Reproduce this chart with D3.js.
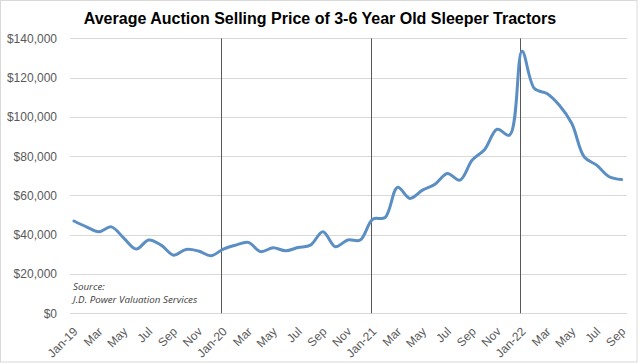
<!DOCTYPE html>
<html>
<head>
<meta charset="utf-8">
<script src="https://cdn.jsdelivr.net/npm/d3@7"></script>
<style>
  html, body { margin: 0; padding: 0; background: #fff; }
  svg { display: block; }
</style>
</head>
<body>
<svg id="chart" width="640" height="364"></svg>
<script>
const months = [
  "Jan-19","Feb-19","Mar-19","Apr-19","May-19","Jun-19","Jul-19","Aug-19","Sep-19","Oct-19","Nov-19","Dec-19",
  "Jan-20","Feb-20","Mar-20","Apr-20","May-20","Jun-20","Jul-20","Aug-20","Sep-20","Oct-20","Nov-20","Dec-20",
  "Jan-21","Feb-21","Mar-21","Apr-21","May-21","Jun-21","Jul-21","Aug-21","Sep-21","Oct-21","Nov-21","Dec-21",
  "Jan-22","Feb-22","Mar-22","Apr-22","May-22","Jun-22","Jul-22","Aug-22","Sep-22"
];
const prices = [
  47000, 44000, 41500, 44000, 38300, 32700, 37300, 34700, 29600, 32500, 31700, 29300,
  32700, 34700, 36100, 31400, 33400, 31800, 33500, 34700, 41500, 33900, 37300, 37300,
  47900, 48800, 64100, 58500, 62700, 65700, 71200, 67800, 78000, 83400, 93700, 90700,
  133400, 114400, 111900, 105900, 96600, 79600, 75400, 69500, 68100
];
// every other month is labelled
const tickMonths = months.filter((m, i) => i % 2 === 0);
const tickLabels = ["Jan-19","Mar","May","Jul","Sep","Nov","Jan-20","Mar","May","Jul","Sep","Nov",
  "Jan-21","Mar","May","Jul","Sep","Nov","Jan-22","Mar","May","Jul","Sep"];
const yTicks = [0, 20000, 40000, 60000, 80000, 100000, 120000, 140000];
const yearDividers = ["Jan-20", "Jan-21", "Jan-22"];
const title = "Average Auction Selling Price of 3-6 Year Old Sleeper Tractors";
const sourceLines = ["Source:", "J.D. Power Valuation Services"];

const svg = d3.select("#chart");
const plotLeft = 70, plotRight = 627, plotTop = 38.3, plotBottom = 313.3;

const x = d3.scalePoint().domain(months).range([74, 621.6]);
const y = d3.scaleLinear().domain([0, 140000]).range([plotBottom, plotTop]);

// outer border
svg.append("rect")
  .attr("x", 0.5).attr("y", 0.5).attr("width", 636.5).attr("height", 361.5)
  .attr("fill", "#fff").attr("stroke", "#d9d9d9");

// title
svg.append("text")
  .attr("x", 320).attr("y", 24)
  .attr("text-anchor", "middle")
  .attr("font-family", "Liberation Sans, Arial, sans-serif")
  .attr("font-weight", "bold")
  .attr("font-size", 16)
  .attr("fill", "#000")
  .text(title);

// gridlines
svg.append("g").selectAll("line").data(yTicks).join("line")
  .attr("x1", plotLeft).attr("x2", plotRight)
  .attr("y1", d => Math.round(y(d)) + 0.5).attr("y2", d => Math.round(y(d)) + 0.5)
  .attr("stroke", "#d9d9d9").attr("stroke-width", 1);

// y axis labels
const yAxis = d3.axisLeft(y).tickValues(yTicks).tickSize(0).tickPadding(0)
  .tickFormat(d => "$" + d3.format(",")(d));
const gy = svg.append("g").attr("transform", "translate(57,0)").call(yAxis);
gy.select(".domain").remove();
gy.selectAll("text")
  .attr("font-family", "Liberation Sans, Arial, sans-serif")
  .attr("font-size", 12).attr("fill", "#595959");

// x axis labels
const labelMap = new Map(tickMonths.map((m, i) => [m, tickLabels[i]]));
const xAxis = d3.axisBottom(x).tickValues(tickMonths).tickSize(0).tickFormat(d => labelMap.get(d));
const gx = svg.append("g").attr("transform", `translate(0,${plotBottom})`).call(xAxis);
gx.select(".domain").remove();
gx.selectAll("text")
  .attr("font-family", "Liberation Sans, Arial, sans-serif")
  .attr("font-size", 12).attr("fill", "#595959")
  .attr("text-anchor", "end")
  .attr("dy", 0)
  .attr("y", 0)
  .attr("transform", "translate(4,19) rotate(-45)");

// year divider lines
svg.append("g").selectAll("line").data(yearDividers).join("line")
  .attr("x1", d => Math.round(x(d)) - 1.5).attr("x2", d => Math.round(x(d)) - 1.5)
  .attr("y1", plotTop).attr("y2", plotBottom)
  .attr("stroke", "#595959").attr("stroke-width", 1);

// source note
svg.append("g").selectAll("text").data(sourceLines).join("text")
  .attr("x", 73).attr("y", (d, i) => 289.5 + i * 13.5)
  .attr("font-family", "Open Sans, sans-serif")
  .attr("font-style", "italic")
  .attr("font-size", 9.8)
  .attr("fill", "#404040")
  .text(d => d);

// line
const line = d3.line()
  .x((d, i) => x(months[i]))
  .y(d => y(d))
  .curve(d3.curveCatmullRom.alpha(0.5));
svg.append("path")
  .datum(prices)
  .attr("d", line)
  .attr("fill", "none")
  .attr("stroke", "#5b8fc4")
  .attr("stroke-width", 3)
  .attr("stroke-linejoin", "round")
  .attr("stroke-linecap", "round");
</script>
</body>
</html>
